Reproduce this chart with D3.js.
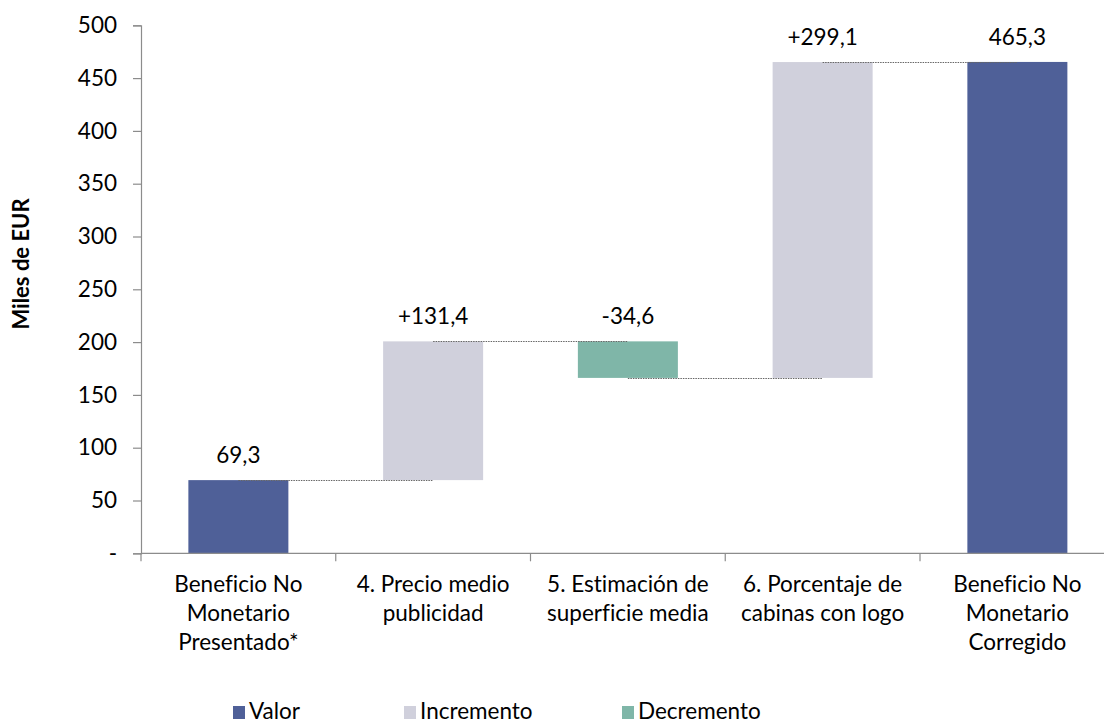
<!DOCTYPE html>
<html>
<head>
<meta charset="utf-8">
<script src="https://cdn.jsdelivr.net/npm/d3@7/dist/d3.min.js"></script>
<style>
  html, body { margin: 0; padding: 0; background: #fff; }
  svg { display: block; font-family: Lato, "Noto Sans", sans-serif; font-variant-ligatures: none; font-feature-settings: "liga" 0; }
</style>
</head>
<body>
<svg id="chart" width="1104" height="724"></svg>
<script>
// ---- Data ----
const categories = [
  "Beneficio No Monetario Presentado*",
  "4. Precio medio publicidad",
  "5. Estimación de superficie media",
  "6. Porcentaje de cabinas con logo",
  "Beneficio No Monetario Corregido"
];
const categoryLines = [
  ["Beneficio No", "Monetario", "Presentado*"],
  ["4. Precio medio", "publicidad"],
  ["5. Estimación de", "superficie media"],
  ["6. Porcentaje de", "cabinas con logo"],
  ["Beneficio No", "Monetario", "Corregido"]
];
const values = [69.3, 131.4, -34.6, 299.1, 465.3];
const types = ["Valor", "Incremento", "Decremento", "Incremento", "Valor"];
const legendNames = ["Valor", "Incremento", "Decremento"];
const yTicks = [0, 50, 100, 150, 200, 250, 300, 350, 400, 450, 500];
const yTitle = "Miles de EUR";

const colors = { "Valor": "#4f6098", "Incremento": "#d0d0dc", "Decremento": "#7fb6a8" };

// ---- Compute waterfall segments ----
let running = 0;
const bars = values.map((v, i) => {
  let start, end;
  if (types[i] === "Valor") { start = 0; end = v; running = v; }
  else { start = running; end = running + v; running = end; }
  return { cat: categories[i], lines: categoryLines[i], v, type: types[i], start, end, level: running };
});

const svg = d3.select("#chart");
const y0px = 553.3, y500px = 25.3;
const xLeft = 141, step = 194.75;
const fs = 22.5;

const x = d3.scaleBand()
  .domain(categories)
  .range([xLeft, xLeft + step * categories.length])
  .paddingInner(0.4865)
  .paddingOuter(0.4865 / 2);

const y = d3.scaleLinear().domain([0, 500]).range([y0px, y500px]);

const axisColor = "#8c8c8c";

// ---- Bars ----
svg.append("g").selectAll("rect").data(bars).join("rect")
  .attr("x", d => x(d.cat))
  .attr("width", x.bandwidth())
  .attr("y", d => y(Math.max(d.start, d.end)))
  .attr("height", d => Math.abs(y(d.start) - y(d.end)))
  .attr("fill", d => colors[d.type]);

// ---- Connectors ----
const conn = bars.slice(0, -1).map((d, i) => ({
  x1: x(d.cat) + x.bandwidth() / 2,
  x2: x(bars[i + 1].cat) + x.bandwidth() / 2,
  level: d.level
}));
svg.append("g").selectAll("line").data(conn).join("line")
  .attr("x1", d => d.x1).attr("x2", d => d.x2)
  .attr("y1", d => Math.round(y(d.level)) + 0.5)
  .attr("y2", d => Math.round(y(d.level)) + 0.5)
  .attr("stroke", "#666")
  .attr("stroke-width", 1)
  .attr("stroke-dasharray", "1.5,1");

// ---- Value labels ----
const fmt = d3.format(".1f");
svg.append("g").selectAll("text").data(bars).join("text")
  .attr("x", d => x(d.cat) + x.bandwidth() / 2)
  .attr("y", d => y(Math.max(d.start, d.end)) - 17)
  .attr("text-anchor", "middle")
  .attr("font-size", fs)
  .attr("fill", "#000")
  .text(d => {
    const s = fmt(Math.abs(d.v)).replace(".", ",");
    if (d.type === "Valor") return s;
    return (d.v >= 0 ? "+" : "-") + s;
  });

// ---- Y axis ----
const yAxis = d3.axisLeft(y)
  .tickValues(yTicks)
  .tickSize(8)
  .tickPadding(16)
  .tickFormat(d => d === 0 ? "-" : d);
const gy = svg.append("g").attr("transform", `translate(${xLeft},0)`).call(yAxis);
gy.select(".domain").attr("stroke", axisColor).attr("stroke-width", 1.2);
gy.selectAll(".tick line").attr("stroke", axisColor).attr("stroke-width", 1.2);
gy.selectAll(".tick text").attr("font-size", fs).attr("font-family", "Lato, sans-serif").attr("fill", "#000");

// ---- X axis ----
const gx = svg.append("g");
gx.append("line")
  .attr("x1", xLeft).attr("x2", xLeft + step * categories.length)
  .attr("y1", y(0)).attr("y2", y(0))
  .attr("stroke", axisColor).attr("stroke-width", 1.2);
const boundaries = d3.range(categories.length + 1).map(i => xLeft + i * x.step());
gx.selectAll("line.tk").data(boundaries).join("line")
  .attr("class", "tk")
  .attr("x1", d => d).attr("x2", d => d)
  .attr("y1", y(0)).attr("y2", y(0) + 8)
  .attr("stroke", axisColor).attr("stroke-width", 1.2);

const catG = svg.append("g").selectAll("text").data(bars).join("text")
  .attr("text-anchor", "middle")
  .attr("font-size", fs)
  .attr("fill", "#000");
catG.each(function(d) {
  const t = d3.select(this);
  d.lines.forEach((ln, j) => {
    t.append("tspan")
      .attr("x", x(d.cat) + x.bandwidth() / 2)
      .attr("y", 592 + j * 29)
      .text(ln);
  });
});

// ---- Y title ----
svg.append("text")
  .attr("transform", "translate(29,264) rotate(-90)")
  .attr("text-anchor", "middle")
  .attr("font-size", 22)
  .attr("font-weight", "bold")
  .attr("fill", "#000")
  .text(yTitle);

// ---- Legend ----
const legendX = [233, 404, 622];
const lg = svg.append("g").selectAll("g").data(legendNames).join("g")
  .attr("transform", (d, i) => `translate(${legendX[i]},0)`);
lg.append("rect")
  .attr("x", 0).attr("y", 706).attr("width", 12).attr("height", 13)
  .attr("fill", d => colors[d]);
lg.append("text")
  .attr("x", 16).attr("y", 719)
  .attr("font-size", fs)
  .attr("fill", "#000")
  .text(d => d);
</script>
</body>
</html>
